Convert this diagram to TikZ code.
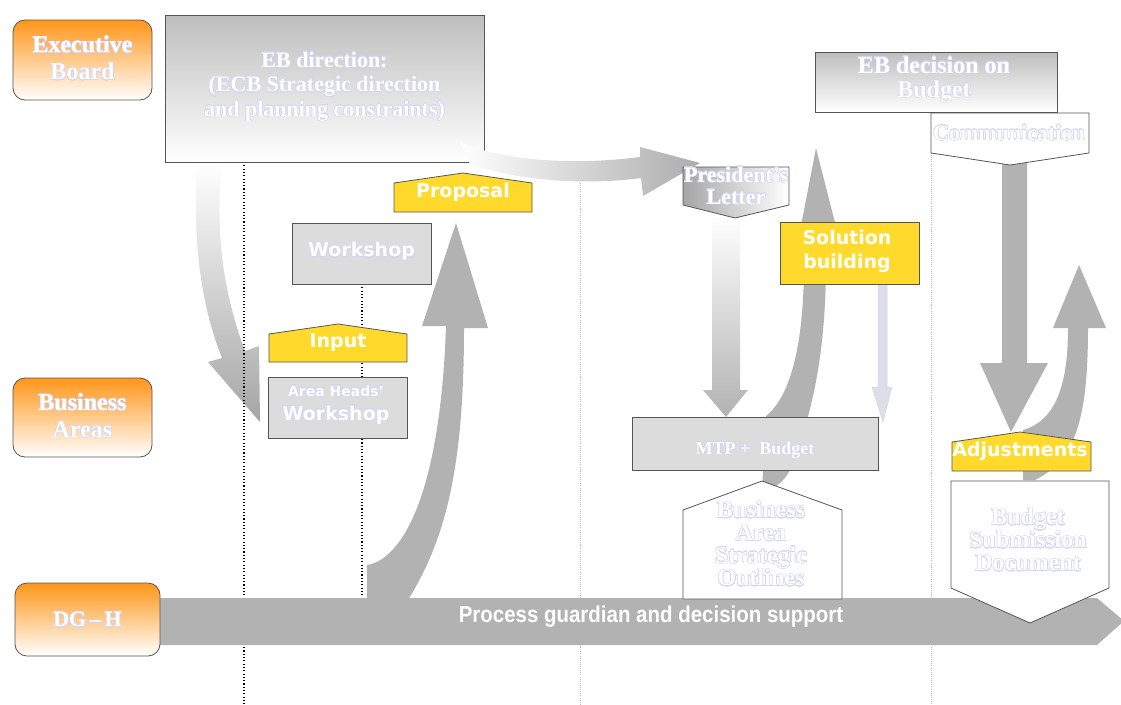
\documentclass[tikz,border=0pt]{standalone}
\usepackage{fontspec}
\setmainfont{Liberation Serif}
\newfontfamily\dvs{DejaVu Sans}
\newfontfamily\lsans{Liberation Sans}
\usepackage[copies]{contour}
\contourlength{0.5pt}
\contournumber{16}
\definecolor{org}{RGB}{255,150,25}
\definecolor{gbar}{RGB}{178,178,178}
\definecolor{yel}{RGB}{255,218,44}
\definecolor{lbox}{RGB}{220,220,220}
\definecolor{bord}{RGB}{85,85,85}
\definecolor{lav}{RGB}{212,212,245}
\definecolor{gtop}{RGB}{190,190,190}
\definecolor{ashade}{RGB}{165,165,165}
\definecolor{lavarrow}{RGB}{222,222,232}
\newcommand{\ct}[1]{\contour{lav}{#1}}
\tikzset{
  rowlbl/.style={draw=bord, line width=0.8pt, rounded corners=12pt, top color=org, bottom color=white,
    minimum width=139pt, minimum height=80pt, inner sep=0pt},
  rowtxt/.style={text=white, align=center, font=\fontsize{24}{27}\selectfont\bfseries, inner sep=0pt},
  greybox/.style={draw=bord, line width=0.8pt, top color=gtop, bottom color=white, inner sep=0pt},
  lightbox/.style={draw=bord, line width=0.8pt, fill=lbox, inner sep=0pt},
  yelbox/.style={draw=bord, line width=0.8pt, fill=yel},
  whitebox/.style={draw=bord, line width=0.8pt, fill=white},
  sanslbl/.style={text=white, align=center, font=\dvs\fontsize{19}{24}\selectfont\bfseries, inner sep=0pt},
  seriflbl/.style={text=white, align=center, inner sep=0pt},
  blockarrow/.style={fill=gbar},
  dotline/.style={line width=1.1pt, dash pattern=on 1.1pt off 2.2pt},
  greydot/.style={line width=0.7pt, draw={rgb,255:red,185;green,185;blue,185}, dash pattern=on 0.7pt off 1.4pt},
}
\begin{document}
\begin{tikzpicture}[x=1pt,y=-1pt]
\useasboundingbox (0,0) rectangle (1121,704);

% guide lines (behind)
\coordinate (l362t) at (362,284);
\coordinate (l362b) at (362,598);
\draw[dotline] (l362t) -- (l362b);
\coordinate (l580t) at (580,183);
\coordinate (l580b) at (580,704);
\draw[greydot] (l580t) -- (l580b);
\coordinate (l930t) at (931,153);
\coordinate (l930b) at (931,704);
\draw[greydot] (l930t) -- (l930b);

% block arrows
% EB direction -> Area Heads' Workshop
\shade[top color=white, bottom color=ashade]
  (197,162) .. controls (192,250) and (203,310) .. (222,358) -- (208,362) -- (260,422) -- (259,346)
  -- (245,351) .. controls (226,300) and (214,240) .. (222,162) -- cycle;
% DG-H bar -> Proposal
\fill[blockarrow]
  (367,600) -- (367,565) .. controls (400,560) and (440,500) .. (446,326) -- (422,326) -- (456,223)
  -- (488,328) -- (464,328) .. controls (464,470) and (445,540) .. (408,600) -- cycle;
% President's Letter -> MTP + Budget
\shade[top color=white, bottom color={rgb,255:red,178;green,178;blue,178}]
  (712,215) -- (712,390) -- (703,390) -- (726,417) -- (748,390) -- (740,390) -- (740,215) -- cycle;
% MTP + Budget -> up
\fill[blockarrow]
  (762,490) -- (766,416) .. controls (792,395) and (804,340) .. (804,262) -- (794,262) -- (816,148)
  -- (845,262) -- (826,262) .. controls (826,360) and (810,420) .. (790,470)
  .. controls (782,485) and (772,490) .. (762,490) -- cycle;
% Solution building -> down (lavender)
\filldraw[fill=lavarrow, draw=lav, line width=0.5pt]
  (878,284) -- (878,387) -- (872,387) -- (883,422) -- (892,387) -- (887,387) -- (887,284) -- cycle;
% Communication -> Adjustments
\fill[blockarrow]
  (1002,160) -- (1002,363) -- (980,363) -- (1011,432) -- (1048,363) -- (1027,363) -- (1027,160) -- cycle;
% Adjustments -> up
\fill[blockarrow]
  (1023,480) -- (1023,430) .. controls (1058,420) and (1068,380) .. (1068,328) -- (1053,328) -- (1079,265)
  -- (1106,328) -- (1088,328) .. controls (1088,420) and (1075,460) .. (1035,480) -- cycle;

% dotted line at 244 (over arrow)
\coordinate (l244t) at (244,162);
\coordinate (l244b) at (244,704);
\draw[dotline] (l244t) -- (l244b);

% DG-H bar
\fill[blockarrow] (160,598) -- (1097,598) -- (1124,621) -- (1097,645) -- (160,645) -- cycle;
\node[text=white, font=\lsans\fontsize{23}{26}\selectfont\bfseries, inner sep=0pt] (bartxt) at (651,617)
  {\scalebox{0.89}[1]{Process guardian and decision support}};

% row labels
\node[rowlbl] (eb) at (82.5,60) {};
\node[rowtxt] (ebt) at (82.5,58.5) {\ct{Executive}\\\ct{Board}};
\node[rowlbl, minimum height=79pt] (ba) at (82.5,417.5) {};
\node[rowtxt] (bat) at (82.5,416) {\ct{Business}\\\ct{Areas}};
\node[rowlbl, minimum width=145pt, minimum height=73pt] (dg) at (87.5,619.5) {};
\node[rowtxt, font=\fontsize{22}{26}\selectfont\bfseries] (dgt) at (87.5,620) {\ct{DG\,–\,H}};

% EB direction
\node[greybox, minimum width=319pt, minimum height=147pt] (ebdir) at (324.5,88.5) {};
\node[seriflbl, font=\fontsize{22}{24.5}\selectfont\bfseries] (ebdirt) at (324.5,87)
  {\ct{EB direction:}\\\ct{(ECB Strategic direction}\\\ct{and planning constraints)}};

% EB direction -> President's Letter (drawn over the box corner)
\shade[left color=white, right color={rgb,255:red,172;green,172;blue,172}]
  (460,142) .. controls (500,160) and (570,166) .. (640,157) -- (640,147) -- (700,163) -- (643,196)
  -- (641,178) .. controls (590,185) and (520,182) .. (470,164) -- cycle;

% Workshop
\node[lightbox, minimum width=139pt, minimum height=61pt] (ws) at (361.5,253.5) {};
\node[sanslbl] (wst) at (361.5,252) {\ct{Workshop}};

% Input
\draw[yelbox] (269,362) -- (269,334) -- (338,324) -- (407,334) -- (407,362) -- cycle;
\node[sanslbl] (input) at (338,343) {Input};

% Area Heads' Workshop
\node[lightbox, minimum width=139pt, minimum height=61pt] (ahw) at (337.5,407.5) {};
\node[sanslbl] (ahwt) at (336,405) {\fontsize{14}{24}\selectfont\ct{Area Heads’}\\\ct{Workshop}};

% Proposal
\draw[yelbox] (394,212) -- (394,183) -- (463,173) -- (532,183) -- (532,212) -- cycle;
\node[sanslbl] (prop) at (463,192) {Proposal};

% President's Letter
\draw[draw=bord, line width=0.8pt, left color={rgb,255:red,165;green,165;blue,165}, right color=white]
  (683,167) -- (789,167) -- (789,205) -- (735,218) -- (683,205) -- cycle;
\node[seriflbl, font=\fontsize{22}{22}\selectfont\bfseries] (pres) at (736,186) {\ct{President’s}\\\ct{Letter}};

% Solution building
\node[yelbox, minimum width=139pt, minimum height=62pt, inner sep=0pt] (sol) at (849.5,253) {};
\node[sanslbl] (solt) at (847,251) {Solution\\building};

% MTP + Budget
\node[lightbox, minimum width=246pt, minimum height=53pt] (mtp) at (755,443.5) {};
\node[seriflbl, font=\fontsize{18}{20}\selectfont\bfseries] (mtpt) at (755,450) {\ct{MTP +~ Budget}};

% Business Area Strategic Outlines
\draw[whitebox] (683,599) -- (683,510) -- (762,481) -- (842,510) -- (842,599) -- cycle;
\node[seriflbl, text=white, font=\fontsize{24}{22.7}\selectfont\bfseries] (baso) at (761,544)
  {\ct{Business}\\\ct{Area}\\\ct{Strategic}\\\ct{Outlines}};

% EB decision on Budget
\node[greybox, minimum width=242pt, minimum height=60pt] (ebdec) at (936,82) {};
\node[seriflbl, font=\fontsize{24}{24}\selectfont\bfseries] (ebdect) at (934,80) {\ct{EB decision on}\\\ct{Budget}};

% Communication
\draw[whitebox] (931,113) -- (1089,113) -- (1089,153) -- (1010,165) -- (931,153) -- cycle;
\node[seriflbl, font=\fontsize{22}{24}\selectfont\bfseries] (comm) at (1009,133) {\ct{Communication}};

% Adjustments
\draw[yelbox] (952,471) -- (952,442) -- (1020,432) -- (1091,442) -- (1091,471) -- cycle;
\node[sanslbl] (adj) at (1020,451) {Adjustments};

% Budget Submission Document
\draw[whitebox] (951,481) -- (1109,481) -- (1109,588) -- (1030,623) -- (951,588) -- cycle;
\node[seriflbl, font=\fontsize{24}{23}\selectfont\bfseries] (bsd) at (1028,540)
  {\ct{Budget}\\\ct{Submission}\\\ct{Document}};
\end{tikzpicture}
\end{document}
